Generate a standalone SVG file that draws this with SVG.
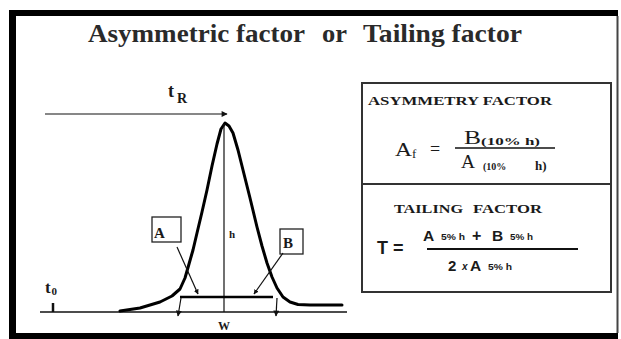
<svg xmlns="http://www.w3.org/2000/svg" width="621" height="339" viewBox="0 0 621 339">
<defs>
<marker id="ah" viewBox="0 0 10 10" refX="9" refY="5" markerWidth="7" markerHeight="6" orient="auto" markerUnits="userSpaceOnUse">
<path d="M0,0 L10,5 L0,10 z" fill="#111"/>
</marker>
<marker id="ahs" viewBox="0 0 10 10" refX="9" refY="5" markerWidth="5" markerHeight="5" orient="auto" markerUnits="userSpaceOnUse">
<path d="M0,0 L10,5 L0,10 z" fill="#111"/>
</marker>
</defs>
<style>
.serif{font-family:"Liberation Serif","Times New Roman",serif;fill:#1a1a1a}
.sans{font-family:"Liberation Sans",Arial,sans-serif;fill:#1a1a1a;font-weight:bold}
.b{font-weight:bold}
.thin{stroke:#111;stroke-width:1.2;fill:none}
.box{fill:none;stroke:#222;stroke-width:1.3}
.ttl{font-size:25px;fill:#2a2a2a}
</style>
<rect x="0" y="0" width="621" height="339" fill="#fff"/>
<g id="frame">
<path d="M9,10 H618 V16 H16 V333 H618 V339 H9 Z" fill="#000"/>
<line x1="617.5" y1="16" x2="617.5" y2="333" stroke="#444" stroke-width="2"/>
</g>
<g id="title">
<text class="serif b ttl" x="88" y="42" textLength="217" lengthAdjust="spacingAndGlyphs">Asymmetric factor</text>
<text class="serif b ttl" x="322" y="42" textLength="25" lengthAdjust="spacingAndGlyphs">or</text>
<text class="serif b ttl" x="363" y="42" textLength="159" lengthAdjust="spacingAndGlyphs">Tailing factor</text>
</g>
<g id="chromatogram">
<line x1="40" y1="312" x2="347" y2="312" stroke="#111" stroke-width="1.5"/>
<line x1="53" y1="303" x2="53" y2="312" stroke="#111" stroke-width="2.5"/>
<path d="M120,311 L140,308 L160,302 L172,296 L180,289 L185,278 L189,264 L193,250 L197,233 L202,212 L207,190 L212,166 L217,144 L221,129 L225,123 L229,126 L233,133 L238,150 L243,170 L250,198 L257,227 L262,246 L267,263 L272,277 L277,288 L283,297 L290,302 L298,304.5 L310,305 L342,305" fill="none" stroke="#000" stroke-width="3" stroke-linejoin="round" stroke-linecap="round"/>
<line x1="224" y1="124" x2="224" y2="312" stroke="#111" stroke-width="1.2"/>
<line x1="180" y1="297" x2="273" y2="297" stroke="#000" stroke-width="2.5"/>
</g>
<g id="tR">
<text class="serif b" x="168" y="97" font-size="18">t</text>
<text class="serif b" x="177" y="103" font-size="14">R</text>
</g>
<g id="t0">
<text class="serif b" x="45" y="293" font-size="17">t</text>
<text class="serif b" x="51.5" y="295" font-size="11">0</text>
</g>
<g id="labelA">
<rect class="box" x="152" y="217" width="29" height="25"/>
<text class="serif b" x="154" y="238" font-size="15">A</text>
</g>
<g id="labelB">
<rect class="box" x="280" y="229" width="23" height="25"/>
<text class="serif b" x="283" y="248" font-size="15">B</text>
</g>
<g id="labelh">
<text class="serif b" x="229" y="238" font-size="11">h</text>
</g>
<g id="labelW">
<text class="serif b" x="224" y="330" font-size="12" text-anchor="middle">W</text>
</g>
<g id="connectors">
<line x1="45" y1="114" x2="227" y2="114" class="thin" marker-end="url(#ah)"/>
<line x1="177" y1="247" x2="198" y2="294" class="thin" marker-end="url(#ahs)"/>
<line x1="283" y1="253" x2="254" y2="294" class="thin" marker-end="url(#ahs)"/>
<line x1="181" y1="298" x2="178" y2="316" class="thin" marker-end="url(#ah)"/>
<line x1="277" y1="298" x2="276" y2="316" class="thin" marker-end="url(#ah)"/>
</g>
<g id="formulaBox">
<rect x="362" y="83" width="249" height="209" fill="none" stroke="#333" stroke-width="2"/>
<line x1="362" y1="184" x2="611" y2="184" stroke="#333" stroke-width="2"/>
</g>
<g id="asymmetry">
<text class="serif b" x="368" y="105" font-size="12.5" textLength="184" lengthAdjust="spacingAndGlyphs">ASYMMETRY FACTOR</text>
<text class="serif" x="395" y="156" font-size="19" textLength="17" lengthAdjust="spacingAndGlyphs">A</text>
<text class="serif" x="412" y="158" font-size="13">f</text>
<text class="serif" x="430" y="155" font-size="18">=</text>
<line x1="455" y1="148" x2="555" y2="148" stroke="#111" stroke-width="1.6"/>
<text class="serif" x="464" y="144" font-size="18" textLength="17" lengthAdjust="spacingAndGlyphs">B</text>
<text class="serif b" x="481" y="145" font-size="10" textLength="59" lengthAdjust="spacingAndGlyphs">(10% h)</text>
<text class="serif" x="461" y="168" font-size="18" textLength="14" lengthAdjust="spacingAndGlyphs">A</text>
<text class="serif b" x="483" y="170" font-size="10">(10%</text>
<text class="serif b" x="535" y="170" font-size="13">h)</text>
</g>
<g id="tailing">
<text class="serif b" x="394" y="213" font-size="12.5" textLength="69" lengthAdjust="spacingAndGlyphs" fill="#333">TAILING</text>
<text class="serif b" x="473" y="213" font-size="12.5" textLength="69" lengthAdjust="spacingAndGlyphs" fill="#333">FACTOR</text>
<text class="sans" x="377" y="254" font-size="18">T =</text>
<text class="sans" x="423" y="241" font-size="15.5">A</text>
<text class="sans" x="441" y="240" font-size="9" textLength="24" lengthAdjust="spacingAndGlyphs">5% h</text>
<text class="sans" x="472" y="241" font-size="16">+</text>
<text class="sans" x="492" y="241" font-size="15.5">B</text>
<text class="sans" x="510" y="240" font-size="9" textLength="23" lengthAdjust="spacingAndGlyphs">5% h</text>
<line x1="427" y1="249" x2="578" y2="249" stroke="#111" stroke-width="1.8"/>
<text class="sans" x="448" y="271" font-size="15">2</text>
<text class="sans" x="462" y="270" font-size="10" font-style="italic">x</text>
<text class="sans" x="470" y="271" font-size="15.5">A</text>
<text class="sans" x="488" y="270" font-size="9" textLength="24" lengthAdjust="spacingAndGlyphs">5% h</text>
</g>
</svg>
